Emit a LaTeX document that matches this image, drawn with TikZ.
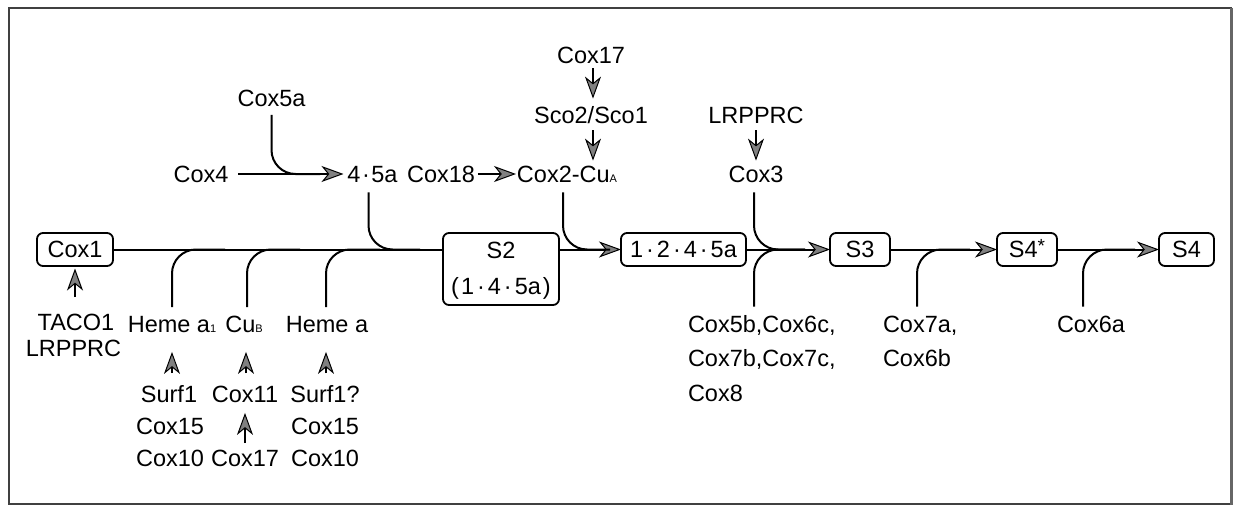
\documentclass[tikz,border=0pt]{standalone}
\usepackage{fontspec}
\setmainfont{Liberation Sans}
\usetikzlibrary{arrows.meta,calc}
\newcommand{\md}{\kern3pt·\kern3pt}
\newcommand{\mds}{\kern1.5pt·\kern1.5pt}
\newcommand{\subtxt}[1]{{\fontsize{11}{11}\selectfont #1}}
\newcommand{\suptxt}[1]{{\fontsize{19}{19}\selectfont\raisebox{5pt}{#1}}}
\begin{document}
\begin{tikzpicture}[x=1pt,y=-1pt,
 lab/.style={inner sep=0pt,outer sep=0pt,font=\fontsize{23.5}{28}\selectfont,text height=16.8pt,text depth=0pt},
 box/.style={lab,draw,line width=1.8pt,rounded corners=6pt,minimum height=33pt},
 con/.style={line width=2pt},
 arr/.style={con,-{Stealth[length=22pt,width=16pt,inset=6.5pt,line width=1pt,fill=black!50]}},
 joincurve/.style={con,rounded corners=24pt}]
\useasboundingbox (0,0) rectangle (1235,506);
\draw[line width=1.2pt,black!75] (9,8) rectangle (1231,504);
\draw[line width=3pt,black!60] (1231,8) -- (1231,505);

% boxes on the main line
\node[box,minimum width=76pt] (cox1) at (75,249.5) {Cox1};
\node[box,minimum width=116pt,minimum height=72pt] (s2) at (501,269) {};
\node[lab] (s2a) at (501,250) {S2};
\node[lab] (s2b) at (501,286) {(\kern2pt 1\md 4\md 5a\kern2pt)};
\node[box,minimum width=125pt] (b1245) at (683.5,249.5) {1\md 2\md 4\md 5a};
\node[box,minimum width=60pt] (s3) at (860,249.5) {S3};
\node[box,minimum width=60pt] (s4s) at (1027,249.5) {S4\suptxt{*}};
\node[box,minimum width=55pt] (s4) at (1186.5,249.5) {S4};

% upper labels
\node[lab] (cox5a) at (271.5,98.5) {Cox5a};
\node[lab] (cox4) at (201,174) {Cox4};
\node[lab] (fa) at (372.5,174) {4\mds 5a};
\node[lab] (cox18) at (441,174) {Cox18};
\node[lab] (cox2) at (567,174) {Cox2-Cu\subtxt{A}};
\node[lab] (cox17t) at (591,55) {Cox17};
\node[lab] (sco) at (591,115) {Sco2/Sco1};
\node[lab] (lrt) at (756,115) {LRPPRC};
\node[lab] (cox3) at (756,174) {Cox3};

% lower labels
\node[lab] (taco) at (76,322.5) {TACO1};
\node[lab] (lrb) at (73.5,348.5) {LRPPRC};
\node[lab] (ha1) at (172,324.5) {Heme a\subtxt{1}};
\node[lab] (cub) at (244,324.5) {Cu\subtxt{B}};
\node[lab] (ha) at (327,324.5) {Heme a};
\node[lab] (surf1) at (169,394.5) {Surf1};
\node[lab] (c15a) at (170,426.5) {Cox15};
\node[lab] (c10a) at (170,458.5) {Cox10};
\node[lab] (cox11) at (245,394.5) {Cox11};
\node[lab] (c17b) at (245,458.5) {Cox17};
\node[lab] (surf1q) at (325,394.5) {Surf1?};
\node[lab] (c15b) at (325,426.5) {Cox15};
\node[lab] (c10b) at (325,458.5) {Cox10};
\node[lab,anchor=west] (c5b) at (688,324) {Cox5b,Cox6c,};
\node[lab,anchor=west] (c7b) at (688,358.5) {Cox7b,Cox7c,};
\node[lab,anchor=west] (c8) at (688,393.5) {Cox8};
\node[lab,anchor=west] (c7a) at (883,324) {Cox7a,};
\node[lab,anchor=west] (c6b) at (883,358.5) {Cox6b};
\node[lab,anchor=west] (c6a) at (1057,324) {Cox6a};

% joining points on lines
\coordinate (j1) at (320,174);
\coordinate (j2) at (420,249.5);
\coordinate (j3) at (610,249.5);
\coordinate (j4) at (805,249.5);
\coordinate (j5) at (225,249.5);
\coordinate (j6) at (300,249.5);
\coordinate (j7) at (380,249.5);
\coordinate (j8) at (970,249.5);
\coordinate (j9) at (1135,249.5);

% main line
\draw[con] (cox1.east) -- (cox1.east -| s2.west);
\draw[arr] (s2.east |- b1245.west) -- (b1245.west);
\draw[arr] (b1245.east) -- (s3.west);
\draw[arr] (s3.east) -- (s4s.west);
\draw[arr] (s4s.east) -- (s4.west);

% straight arrows
\draw[arr,shorten <=10pt,shorten >=4pt] (cox4.east) -- (fa.west);
\draw[arr,shorten <=3pt,shorten >=1pt] (cox18.east) -- (cox2.west);
\draw[arr,shorten <=5pt,shorten >=8pt] ([xshift=2pt]cox17t.south) -- ([xshift=2pt]sco.north);
\draw[arr,shorten <=7pt,shorten >=5pt] ([xshift=2pt]sco.south) -- ([xshift=2pt]sco.south |- cox2.north);
\draw[arr,shorten <=7pt,shorten >=5pt] (lrt.south) -- (cox3.north);
\draw[arr,shorten <=17pt,shorten >=2.5pt] (taco.north -| cox1.south) -- (cox1.south);
\draw[arr,shorten <=13pt,shorten >=19pt] (ha1.south |- surf1.north) -- (ha1.south);
\draw[arr,shorten <=13pt,shorten >=19pt] ([xshift=2pt]cub.south |- cox11.north) -- ([xshift=2pt]cub.south);
\draw[arr,shorten <=13pt,shorten >=19pt] ([xshift=-1pt]ha.south |- surf1q.north) -- ([xshift=-1pt]ha.south);
\draw[arr,shorten <=7pt,shorten >=10pt] (c17b.north) -- (cox11.south);

% curved joins
\draw[joincurve] ([yshift=-8pt]cox5a.south) |- (j1);
\draw[joincurve] ([xshift=-4pt,yshift=-10pt]fa.south) |- (j2);
\draw[joincurve] ([xshift=-4pt,yshift=-10pt]cox2.south) |- (j3);
\draw[joincurve] ([xshift=-2pt,yshift=-10pt]cox3.south) |- (j4);
\draw[joincurve] ([xshift=66pt,yshift=9pt]c5b.north west) |- (j4);
\draw[joincurve] ([yshift=9pt]ha1.north) |- (j5);
\draw[joincurve] ([xshift=3pt,yshift=9pt]cub.north) |- (j6);
\draw[joincurve] ([xshift=-1pt,yshift=9pt]ha.north) |- (j7);
\draw[joincurve] ([xshift=34pt,yshift=9pt]c7a.north west) |- (j8);
\draw[joincurve] ([xshift=26pt,yshift=9pt]c6a.north west) |- (j9);
\end{tikzpicture}
\end{document}
